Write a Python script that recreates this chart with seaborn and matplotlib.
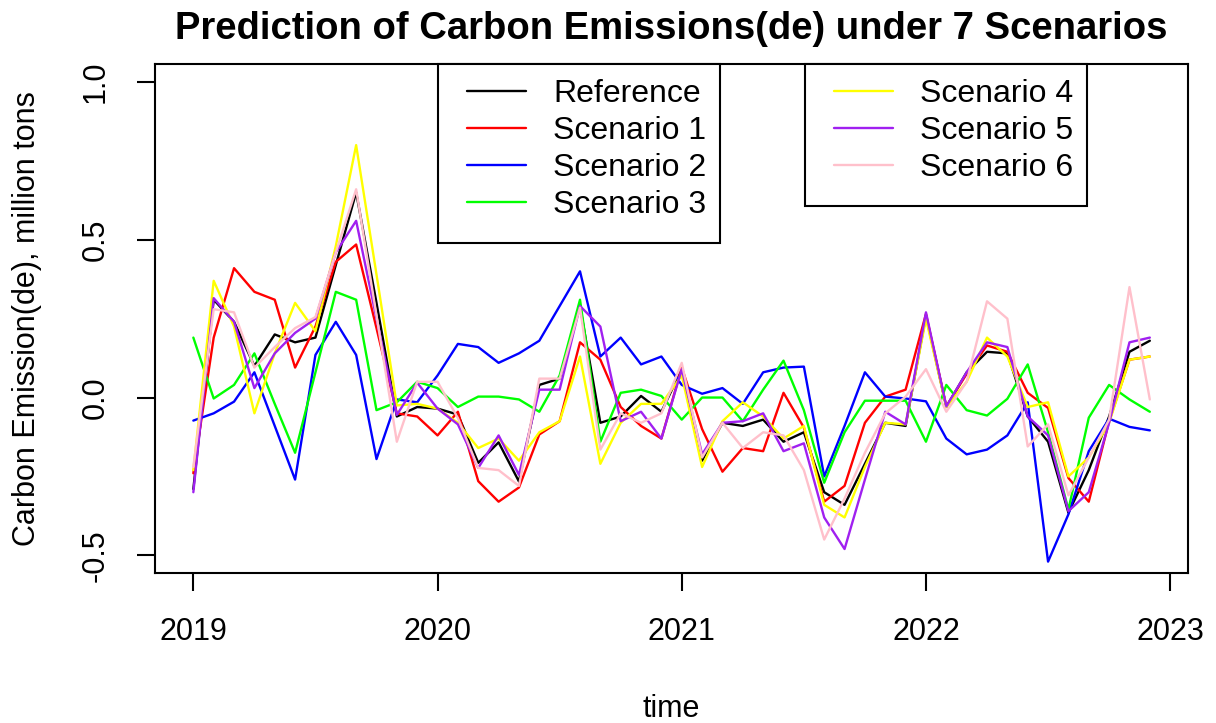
import numpy as np
import pandas as pd
import matplotlib
matplotlib.use("Agg")
import matplotlib.pyplot as plt
import seaborn as sns
from matplotlib.patches import Rectangle

# ---------------- data ----------------
start_year = 2019
n_months = 48
series_names = ["Reference", "Scenario 1", "Scenario 2", "Scenario 3",
                "Scenario 4", "Scenario 5", "Scenario 6"]
series_colors = ["#000000", "#FF0000", "#0000FF", "#00FF00",
                 "#FFFF00", "#A020F0", "#FFC0CB"]
year_ticks = [2019, 2020, 2021, 2022, 2023]
y_ticks = [-0.5, 0.0, 0.5, 1.0]
y_tick_labels = ["-0.5", "0.0", "0.5", "1.0"]

reference = [-0.29, 0.31, 0.24, 0.10, 0.20, 0.175, 0.19, 0.42, 0.65, 0.30, -0.06, -0.03,
             -0.035, -0.054, -0.207, -0.142, -0.266, 0.04, 0.06, 0.29, -0.08, -0.06, 0.005, -0.045,
             0.09, -0.20, -0.08, -0.09, -0.07, -0.14, -0.11, -0.30, -0.34, -0.21, -0.08, -0.09,
             0.26, -0.03, 0.08, 0.145, 0.14, -0.06, -0.14, -0.365, -0.23, -0.06, 0.145, 0.18]
scenario1 = [-0.24, 0.19, 0.41, 0.335, 0.31, 0.095, 0.225, 0.43, 0.485, 0.22, -0.05, -0.06,
             -0.12, -0.045, -0.265, -0.33, -0.285, -0.117, -0.075, 0.175, 0.12, -0.03, -0.09, -0.13,
             0.095, -0.10, -0.235, -0.16, -0.17, 0.015, -0.095, -0.33, -0.28, -0.08, 0.003, 0.025,
             0.265, -0.028, 0.075, 0.165, 0.145, 0.015, -0.033, -0.255, -0.33, -0.075, 0.12, 0.13]
scenario2 = [-0.073, -0.05, -0.013, 0.08, -0.09, -0.26, 0.135, 0.24, 0.135, -0.195, -0.006, -0.015,
             0.07, 0.17, 0.16, 0.11, 0.14, 0.18, 0.29, 0.40, 0.13, 0.19, 0.105, 0.13,
             0.04, 0.012, 0.03, -0.02, 0.08, 0.095, 0.098, -0.25, -0.09, 0.08, 0.003, -0.003,
             -0.012, -0.13, -0.18, -0.165, -0.12, -0.015, -0.52, -0.37, -0.17, -0.067, -0.093, -0.104]
scenario3 = [0.19, -0.003, 0.04, 0.14, -0.02, -0.175, 0.08, 0.335, 0.31, -0.04, -0.015, 0.05,
             0.03, -0.03, 0.003, 0.003, -0.006, -0.045, 0.07, 0.31, -0.14, 0.015, 0.025, 0.005,
             -0.07, 0.0, 0.0, -0.075, 0.025, 0.117, -0.04, -0.27, -0.11, -0.01, -0.01, -0.01,
             -0.14, 0.04, -0.04, -0.057, -0.004, 0.105, -0.11, -0.355, -0.064, 0.04, -0.006, -0.045]
scenario4 = [-0.23, 0.37, 0.225, -0.05, 0.14, 0.30, 0.21, 0.48, 0.80, 0.39, -0.025, -0.02,
             -0.035, -0.08, -0.16, -0.13, -0.20, -0.11, -0.075, 0.13, -0.21, -0.08, -0.02, -0.02,
             0.07, -0.22, -0.075, -0.015, -0.06, -0.13, -0.09, -0.34, -0.38, -0.22, -0.08, -0.085,
             0.25, -0.03, 0.05, 0.19, 0.13, -0.03, -0.015, -0.25, -0.19, -0.08, 0.12, 0.13]
scenario5 = [-0.30, 0.315, 0.24, 0.03, 0.14, 0.205, 0.25, 0.46, 0.56, 0.25, -0.055, 0.047,
             -0.035, -0.085, -0.223, -0.12, -0.245, 0.025, 0.025, 0.29, 0.225, -0.075, -0.045, -0.13,
             0.09, -0.18, -0.08, -0.075, -0.05, -0.17, -0.145, -0.38, -0.48, -0.26, -0.045, -0.085,
             0.27, -0.028, 0.08, 0.175, 0.16, -0.06, -0.12, -0.36, -0.30, -0.08, 0.175, 0.19]
scenario6 = [-0.22, 0.28, 0.27, 0.095, 0.16, 0.22, 0.255, 0.46, 0.66, 0.26, -0.14, 0.05,
             0.05, -0.065, -0.223, -0.23, -0.28, 0.06, 0.06, 0.285, -0.165, -0.05, -0.08, -0.05,
             0.11, -0.19, -0.08, -0.16, -0.11, -0.12, -0.23, -0.45, -0.32, -0.175, -0.05, 0.003,
             0.09, -0.045, 0.05, 0.305, 0.25, -0.155, -0.085, -0.31, -0.19, -0.07, 0.35, -0.006]

all_series = [reference, scenario1, scenario2, scenario3, scenario4, scenario5, scenario6]
time = start_year + np.arange(n_months) / 12.0

df = pd.concat([pd.DataFrame({"time": time, "value": vals, "series": name})
                for name, vals in zip(series_names, all_series)], ignore_index=True)

# ---------------- style ----------------
sns.set_theme(style="white")
plt.rcParams["font.family"] = ["Liberation Sans", "DejaVu Sans"]
FS = 22
LEG_FS = 23

W, H = 1216, 723
L, R, T, B = 155, 1188, 64, 573
fig = plt.figure(figsize=(W / 100, H / 100), dpi=100)
ax = fig.add_axes([L / W, (H - B) / H, (R - L) / W, (B - T) / H])

palette = dict(zip(series_names, series_colors))
sns.lineplot(data=df, x="time", y="value", hue="series", hue_order=series_names,
             palette=palette, linewidth=1.7, ax=ax, legend=False, estimator=None)

ax.set_xlim(2018.843, 2023.073)
ax.set_ylim(-0.556, 1.057)
ax.set_xticks(year_ticks)
ax.set_xticklabels([str(y) for y in year_ticks])
ax.set_yticks(y_ticks)
ax.set_yticklabels(y_tick_labels, rotation=90, va="center")

for s in ax.spines.values():
    s.set_visible(True)
    s.set_color("black")
    s.set_linewidth(1.5)

ax.tick_params(axis="both", which="major", direction="out", length=13, width=1.5,
               color="black", labelsize=FS, labelcolor="black", pad=19,
               bottom=True, left=True, top=False, right=False)

ax.set_xlabel("time", fontsize=FS, color="black")
ax.set_ylabel("Carbon Emission(de), million tons", fontsize=FS, color="black")
ax.xaxis.set_label_coords(0.5, (B - 709) / (B - T))
ax.xaxis.label.set_va("center")
ax.yaxis.set_label_coords((27 - L) / (R - L), 0.5)
ax.yaxis.label.set_va("center")

ax.text(0.5, (B - 29) / (B - T), "Prediction of Carbon Emissions(de) under 7 Scenarios",
        transform=ax.transAxes, ha="center", va="center", fontsize=27.5,
        fontweight="bold", color="black")

# ---------------- legends ----------------
def ax_x(px):
    return (px - L) / (R - L)

def ax_y(py):
    return (B - py) / (B - T)

lines = ax.get_lines()

def boxed_legend(box_px, handle_x_px, idx):
    x0, y0, x1, y1 = box_px
    rect = Rectangle((ax_x(x0), ax_y(y1)), ax_x(x1) - ax_x(x0), ax_y(y0) - ax_y(y1),
                     transform=ax.transAxes, facecolor="white", edgecolor="black",
                     linewidth=1.5, zorder=5, clip_on=False)
    ax.add_patch(rect)
    leg = ax.legend([lines[i] for i in idx], [series_names[i] for i in idx],
                    loc="upper left", bbox_to_anchor=(ax_x(handle_x_px), ax_y(79)),
                    bbox_transform=ax.transAxes, frameon=False, borderpad=0,
                    borderaxespad=0, fontsize=LEG_FS, handlelength=1.85,
                    handletextpad=0.85, labelspacing=0.22)
    leg.set_zorder(6)
    for t in leg.get_texts():
        t.set_color("black")
    return leg

leg1 = boxed_legend((438, 64, 720, 243), 467, [0, 1, 2, 3])
ax.add_artist(leg1)
leg2 = boxed_legend((805, 64, 1087, 206), 834, [4, 5, 6])

fig.savefig("out.png", dpi=100)
